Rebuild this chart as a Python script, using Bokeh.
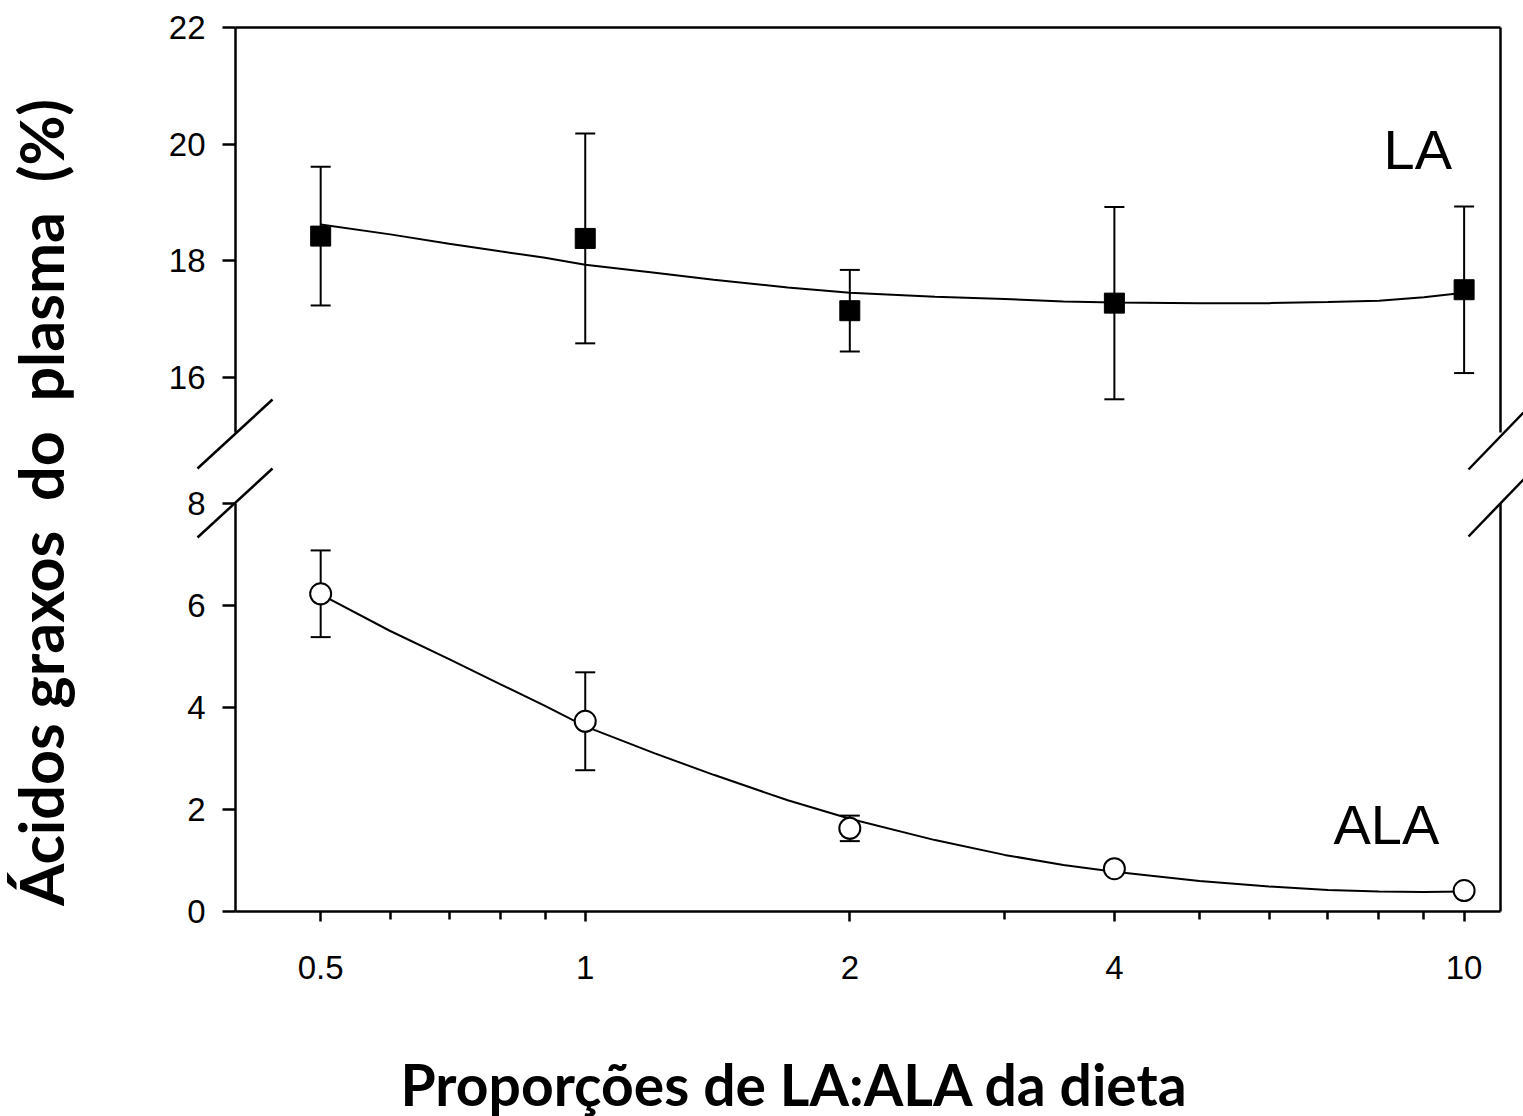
import math
from bokeh.plotting import figure
from bokeh.models import (Range1d, FixedTicker, LogAxis, LinearAxis, Label)
from bokeh.layouts import row, column
from bokeh.embed import file_html
from bokeh.resources import INLINE

# ---------------- data ----------------
ratios = [0.5, 1, 2, 4, 10]
la_mean = [18.42, 18.38, 17.14, 17.27, 17.50]
la_err = [1.19, 1.80, 0.70, 1.65, 1.43]
ala_mean = [6.23, 3.73, 1.63, 0.84, 0.41]
ala_err = [0.85, 0.96, 0.25, 0.05, 0.03]

fit_x = [0.5, 0.6, 0.7, 0.8, 0.9, 1, 1.2, 1.4, 1.7, 2, 2.5, 3, 3.5, 4, 5, 6, 7, 8, 9, 10]
la_fit = [18.62, 18.45, 18.29, 18.16, 18.05, 17.93, 17.79, 17.67, 17.54, 17.45, 17.38,
          17.34, 17.30, 17.28, 17.27, 17.27, 17.29, 17.31, 17.37, 17.45]
ala_fit = [6.22, 5.50, 4.95, 4.46, 4.03, 3.63, 3.10, 2.68, 2.18, 1.82, 1.40, 1.11, 0.91,
           0.78, 0.60, 0.49, 0.42, 0.39, 0.38, 0.39]

x_major = [0.5, 1, 2, 4, 10]
x_minor = [0.6, 0.7, 0.8, 0.9, 3, 5, 6, 7, 8, 9]
x_labels = {0.5: "0.5", 1: "1", 2: "2", 4: "4", 10: "10"}
upper_ticks = [16, 18, 20, 22]
lower_ticks = [0, 2, 4, 6, 8]
x_lim = (0.4, 11)
upper_lim = (15.05, 22)
lower_lim = (0, 8)

y_title = "Ácidos graxos \u00a0do \u00a0plasma \u00a0(%)"
x_title = "Proporções de LA:ALA da dieta"

# ---------------- geometry / style ----------------
TICK_FONT = "Liberation Sans"
TICK_SIZE = "33px"
TITLE_FONT = "Lato"
AXW = 2.5
W, H = 1523, 1116
LEFT_W = 100           # width of y-title strip
TOP_H = 1010           # height of plot block
AX_L, AX_R = 235, 1500          # y axes / right frame line (window px)
FRAME_L, FRAME_R = 150, 1523    # drawing frame (window px)
FRAME_T, FRAME_B = 6, TOP_H
P1_TOP, P1_BOT = 27, 432        # upper segment
P2_TOP, P2_BOT = 503, 911       # lower segment

lg0, lg1 = math.log10(x_lim[0]), math.log10(x_lim[1])
kx = (lg1 - lg0) / (AX_R - AX_L)
x_frame = (10 ** (lg0 - (AX_L - FRAME_L) * kx), 10 ** (lg1 + (FRAME_R - AX_R) * kx))

low_ppu = (P2_BOT - P2_TOP) / (lower_lim[1] - lower_lim[0])
low_range = (lower_lim[0] - (FRAME_B - P2_BOT) / low_ppu,
             lower_lim[0] + (P2_BOT - FRAME_T) / low_ppu)
up_ppu = (P1_BOT - P1_TOP) / (upper_lim[1] - upper_lim[0])
up_range = (upper_lim[1] - (FRAME_B - P1_TOP) / up_ppu,
            upper_lim[1] + (P1_TOP - FRAME_T) / up_ppu)


def px_to_x(px):
    return 10 ** (lg0 + (px - AX_L) * kx)


def py_to_y(py):   # position in the default (lower) y coordinate
    return lower_lim[0] + (P2_BOT - py) / low_ppu


p = figure(width=W - LEFT_W, height=TOP_H, x_axis_type="log",
           x_range=Range1d(*x_frame), y_range=Range1d(*low_range),
           y_axis_location=None, x_axis_location=None,
           min_border_left=FRAME_L - LEFT_W, min_border_right=0,
           min_border_top=FRAME_T, min_border_bottom=0,
           output_backend="svg", toolbar_location=None, title=None)
p.extra_y_ranges = {"upper": Range1d(*up_range)}
p.outline_line_color = None
p.xgrid.visible = False
p.ygrid.visible = False


def style_ticks(ax):
    ax.axis_line_width = AXW
    ax.major_tick_line_width = AXW
    ax.minor_tick_line_width = AXW
    ax.major_tick_in = 0
    ax.minor_tick_in = 0
    ax.major_label_text_font = TICK_FONT
    ax.major_label_text_font_size = TICK_SIZE
    ax.major_label_text_color = "black"
    ax.axis_line_color = "black"
    ax.major_tick_line_color = "black"
    ax.minor_tick_line_color = "black"


def y_axis(range_name, ticks, bounds):
    ax = LinearAxis(y_range_name=range_name, ticker=FixedTicker(ticks=ticks, minor_ticks=[]),
                    bounds=bounds, fixed_location=x_lim[0])
    style_ticks(ax)
    ax.major_tick_out = 13
    ax.minor_tick_out = 0
    ax.major_label_standoff = 17
    return ax


def line_only_axis(cls, **kw):
    return cls(ticker=FixedTicker(ticks=[], minor_ticks=[]), axis_line_width=AXW,
               axis_line_color="black", major_tick_out=0, major_tick_in=0,
               minor_tick_out=0, minor_tick_in=0, major_label_text_font_size="0px", **kw)


p.add_layout(y_axis("default", lower_ticks, lower_lim), "left")
p.add_layout(y_axis("upper", upper_ticks, upper_lim), "left")
p.add_layout(line_only_axis(LinearAxis, y_range_name="default", bounds=lower_lim,
                            fixed_location=x_lim[1]), "right")
p.add_layout(line_only_axis(LinearAxis, y_range_name="upper", bounds=upper_lim,
                            fixed_location=x_lim[1]), "right")
p.add_layout(line_only_axis(LogAxis, y_range_name="upper", bounds=x_lim,
                            fixed_location=upper_lim[1]), "above")

xa = LogAxis(bounds=x_lim, fixed_location=lower_lim[0],
             ticker=FixedTicker(ticks=x_major, minor_ticks=x_minor),
             major_label_overrides=x_labels)
style_ticks(xa)
xa.major_tick_out = 10
xa.minor_tick_out = 8
xa.major_label_standoff = 34
p.add_layout(xa, "below")

# ---------------- LA (upper segment) ----------------
la_up = [m + e for m, e in zip(la_mean, la_err)]
la_lo = [m - e for m, e in zip(la_mean, la_err)]
p.segment(x0=ratios, y0=la_lo, x1=ratios, y1=la_up, line_color="black", line_width=2,
          y_range_name="upper")
p.scatter(ratios + ratios, la_up + la_lo, marker="dash", size=20, line_color="black",
          line_width=2, y_range_name="upper")
p.line(fit_x, la_fit, line_color="black", line_width=2, y_range_name="upper")
p.scatter(ratios, la_mean, marker="square", size=20, fill_color="black", line_color="black",
          y_range_name="upper")

# ---------------- ALA (lower segment) ----------------
ala_up = [m + e for m, e in zip(ala_mean, ala_err)]
ala_lo = [m - e for m, e in zip(ala_mean, ala_err)]
p.segment(x0=ratios, y0=ala_lo, x1=ratios, y1=ala_up, line_color="black", line_width=2)
p.scatter(ratios + ratios, ala_up + ala_lo, marker="dash", size=20, line_color="black",
          line_width=2)
p.line(fit_x, ala_fit, line_color="black", line_width=2)
p.scatter(ratios, ala_mean, marker="circle", size=21, fill_color="white", line_color="black",
          line_width=2)

# ---------------- series labels ----------------
p.add_layout(Label(x=px_to_x(1383), y=py_to_y(149), text="LA", text_align="left",
                   text_baseline="alphabetic", text_font=TICK_FONT, text_font_size="56px",
                   text_color="black"))
p.add_layout(Label(x=px_to_x(1333), y=py_to_y(824), text="ALA", text_align="left",
                   text_baseline="alphabetic", text_font=TICK_FONT, text_font_size="56px",
                   text_color="black"))

# ---------------- axis-break marks ----------------
brk = [(197, 468, 272, 399), (197, 537, 272, 468), (1468, 469, 1523, 412), (1468, 536, 1523, 479)]
p.segment(x0=[px_to_x(b[0]) for b in brk], y0=[py_to_y(b[1]) for b in brk],
          x1=[px_to_x(b[2]) for b in brk], y1=[py_to_y(b[3]) for b in brk],
          line_color="black", line_width=AXW)

# ---------------- titles ----------------
ytf = figure(width=LEFT_W, height=TOP_H, x_range=Range1d(0, LEFT_W), y_range=Range1d(TOP_H, 0),
             x_axis_location=None, y_axis_location=None, min_border=0,
             output_backend="svg", toolbar_location=None, title=None)
ytf.outline_line_color = None
ytf.xgrid.visible = False
ytf.ygrid.visible = False
ytf.add_layout(Label(x=40, y=905, text=y_title, angle=math.pi / 2, text_align="left",
                     text_baseline="middle", text_font=TITLE_FONT, text_font_style="bold",
                     text_font_size="61px", text_color="black"))

XT_H = H - TOP_H
xtf = figure(width=W, height=XT_H, x_range=Range1d(0, W), y_range=Range1d(XT_H, 0),
             x_axis_location=None, y_axis_location=None, min_border=0,
             output_backend="svg", toolbar_location=None, title=None)
xtf.outline_line_color = None
xtf.xgrid.visible = False
xtf.ygrid.visible = False
xtf.add_layout(Label(x=400, y=1083 - TOP_H, text=x_title, text_align="left",
                     text_baseline="middle", text_font=TITLE_FONT, text_font_style="bold",
                     text_font_size="57px", text_color="black"))

layout = column(row(ytf, p), xtf)

with open("out.html", "w") as f:
    f.write(file_html(layout, INLINE))
